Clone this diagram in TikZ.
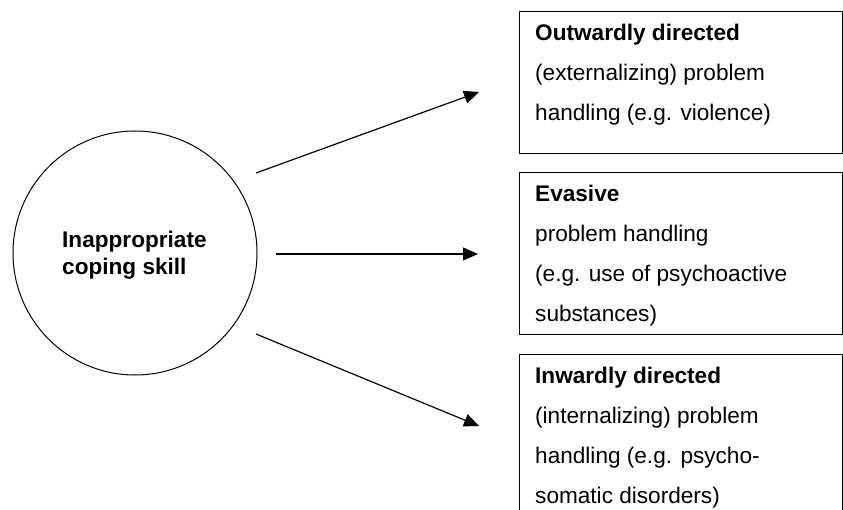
\documentclass[tikz,border=0pt]{standalone}
\usepackage{fontspec}
\setmainfont{Liberation Sans}
\usetikzlibrary{arrows.meta,calc}
\begin{document}
\begin{tikzpicture}[x=1bp,y=-1bp,
  boxframe/.style={draw, line width=1.4bp, minimum width=323bp, anchor=north west, inner sep=0pt},
  boxtext/.style={anchor=base west, align=left, inner sep=0pt, font=\fontsize{22.6bp}{40bp}\selectfont},
  srctext/.style={anchor=base west, align=left, inner sep=0pt, font=\fontsize{22.6bp}{27bp}\selectfont\bfseries},
  conn/.style={line width=1.2bp, -{Triangle[length=15bp,width=13bp]}},
]
\useasboundingbox (0,0) rectangle (843,510);
% source circle
\node[draw, circle, minimum size=244bp, line width=1bp, inner sep=0pt] (src) at (135,253) {};
% base anchor of a multi-line node is its last line
\node[srctext] (srclabel) at (62,275) {Inappropriate\\coping skill};
% boxes
\node[boxframe, minimum height=142bp] (box1) at (519,11) {};
\node[boxframe, minimum height=162bp] (box2) at (519,172) {};
\node[boxframe, minimum height=162bp] (box3) at (519,354) {};
\node[boxtext] (t1) at ($(box1.north west)+(16,110)$) {\textbf{Outwardly directed}\\(externalizing) problem\\handling (e.g. violence)};
\node[boxtext] (t2) at ($(box2.north west)+(16,150)$) {\textbf{Evasive}\\problem handling\\(e.g. use of psychoactive\\substances)};
\node[boxtext] (t3) at ($(box3.north west)+(16,149)$) {\textbf{Inwardly directed}\\(internalizing) problem\\handling (e.g. psycho-\\somatic disorders)};
% arrow ends
\coordinate (a1s) at (256,173);
\coordinate (a1e) at (479,92);
\coordinate (a2s) at (276,254);
\coordinate (a2e) at (478,254);
\coordinate (a3s) at (256,334);
\coordinate (a3e) at (479,426);
\draw[conn] (a1s) -- (a1e);
\draw[conn] (a2s) -- (a2e);
\draw[conn] (a3s) -- (a3e);
\end{tikzpicture}
\end{document}
